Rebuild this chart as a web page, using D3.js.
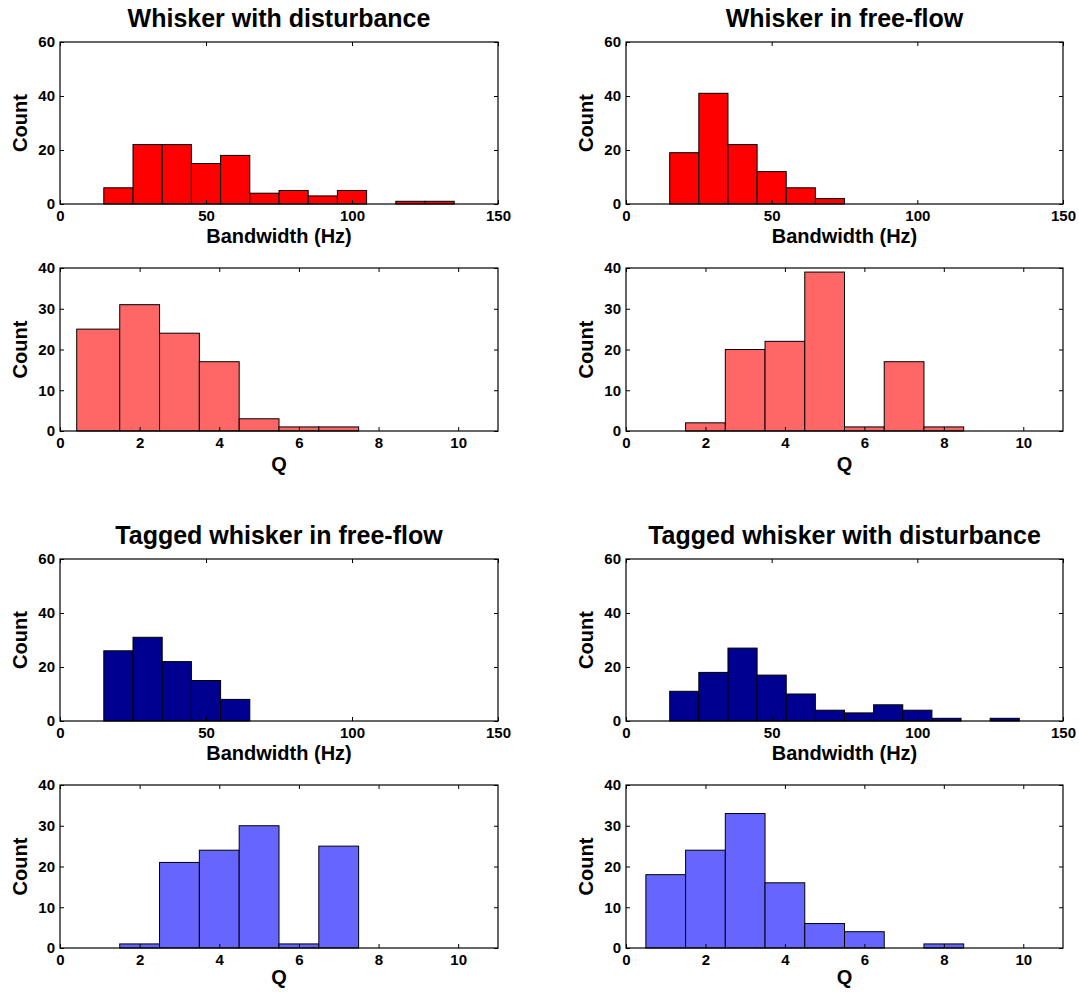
<!DOCTYPE html>
<html><head><meta charset="utf-8">
<script src="https://cdn.jsdelivr.net/npm/d3@7"></script>
<style>body{margin:0;background:#fff;}svg{display:block;}text{font-family:"Liberation Sans",Arial,sans-serif;font-weight:bold;}</style>
</head><body>
<svg id="c" width="1079" height="992"></svg>
<script>
// Bin edges (Bandwidth, width 10 Hz) and counts
const bwEdges = [15,25,35,45,55,65,75,85,95,105,115,125,135];
const bwWhiskerDisturb = [6,22,22,15,18,4,5,3,5,0,1,1];
const bwWhiskerFree    = [19,41,22,12,6,2,0,0,0,0,0,0];
const bwTaggedFree     = [26,31,22,15,8,0,0,0,0,0,0,0];
const bwTaggedDisturb  = [11,18,27,17,10,4,3,6,4,1,0,1];
// Q bins (width 1)
const qEdgesA = [0.42,1.5,2.5,3.5,4.5,5.5,6.5,7.5];
const qWhiskerDisturb = [25,31,24,17,3,1,1];
const qEdgesB = [1.5,2.5,3.5,4.5,5.5,6.5,7.5,8.5];
const qWhiskerFree = [2,20,22,39,1,17,1];
const qTaggedFree  = [1,21,24,30,1,25,0];
const qEdgesC = [0.5,1.5,2.5,3.5,4.5,5.5,6.5,7.5,8.5];
const qTaggedDisturb = [18,24,33,16,6,4,0,1];

const titles = ["Whisker with disturbance","Whisker in free-flow","Tagged whisker in free-flow","Tagged whisker with disturbance"];
const bwTicks = [0,50,100,150];
const qTicks = [0,2,4,6,8,10];
const bwYTicks = [0,20,40,60];
const qYTicks = [0,10,20,30,40];

const colRed="#ff0000", colLRed="#ff6666", colNavy="#000090", colLBlue="#6666ff";

const panels = [
  {x0:60,x1:498,y0:42,y1:204,edges:bwEdges,counts:bwWhiskerDisturb,xd:[0,150],yd:[0,60],xt:bwTicks,yt:bwYTicks,fill:colRed,xl:"Bandwidth (Hz)",lo:39,title:titles[0]},
  {x0:626,x1:1063,y0:42,y1:204,edges:bwEdges,counts:bwWhiskerFree,xd:[0,150],yd:[0,60],xt:bwTicks,yt:bwYTicks,fill:colRed,xl:"Bandwidth (Hz)",lo:39,title:titles[1]},
  {x0:60,x1:498,y0:268,y1:431,edges:qEdgesA,counts:qWhiskerDisturb,xd:[0,11],yd:[0,40],xt:qTicks,yt:qYTicks,fill:colLRed,xl:"Q",lo:40},
  {x0:626,x1:1063,y0:268,y1:431,edges:qEdgesB,counts:qWhiskerFree,xd:[0,11],yd:[0,40],xt:qTicks,yt:qYTicks,fill:colLRed,xl:"Q",lo:40},
  {x0:60,x1:498,y0:559,y1:721,edges:bwEdges,counts:bwTaggedFree,xd:[0,150],yd:[0,60],xt:bwTicks,yt:bwYTicks,fill:colNavy,xl:"Bandwidth (Hz)",lo:39,title:titles[2]},
  {x0:626,x1:1063,y0:559,y1:721,edges:bwEdges,counts:bwTaggedDisturb,xd:[0,150],yd:[0,60],xt:bwTicks,yt:bwYTicks,fill:colNavy,xl:"Bandwidth (Hz)",lo:39,title:titles[3]},
  {x0:60,x1:498,y0:785,y1:948,edges:qEdgesB,counts:qTaggedFree,xd:[0,11],yd:[0,40],xt:qTicks,yt:qYTicks,fill:colLBlue,xl:"Q",lo:36},
  {x0:626,x1:1063,y0:785,y1:948,edges:qEdgesC,counts:qTaggedDisturb,xd:[0,11],yd:[0,40],xt:qTicks,yt:qYTicks,fill:colLBlue,xl:"Q",lo:36}
];

const svg = d3.select("#c");

panels.forEach(p=>{
  const x = d3.scaleLinear().domain(p.xd).range([p.x0,p.x1]);
  const y = d3.scaleLinear().domain(p.yd).range([p.y1,p.y0]);
  const g = svg.append("g");
  const bins = p.counts.map((c,i)=>({a:p.edges[i],b:p.edges[i+1],c:c}));
  g.selectAll("rect.bar").data(bins).enter().append("rect")
    .attr("x",d=>x(d.a)).attr("width",d=>x(d.b)-x(d.a))
    .attr("y",d=>y(d.c)).attr("height",d=>y(0)-y(d.c))
    .attr("fill",p.fill).attr("stroke","#000").attr("stroke-width",1);
  // box
  g.append("rect").attr("x",p.x0).attr("y",p.y0).attr("width",p.x1-p.x0).attr("height",p.y1-p.y0)
    .attr("fill","none").attr("stroke","#000").attr("stroke-width",1.2);
  // axes with inward ticks
  const ax = g.append("g").attr("transform",`translate(0,${p.y1})`)
    .call(d3.axisBottom(x).tickValues(p.xt).tickSizeInner(-4).tickSizeOuter(0).tickPadding(6));
  const axT = g.append("g").attr("transform",`translate(0,${p.y0})`)
    .call(d3.axisTop(x).tickValues(p.xt).tickSizeInner(-4).tickSizeOuter(0).tickFormat(""));
  const ay = g.append("g").attr("transform",`translate(${p.x0},0)`)
    .call(d3.axisLeft(y).tickValues(p.yt).tickSizeInner(-4).tickSizeOuter(0).tickPadding(5));
  const ayR = g.append("g").attr("transform",`translate(${p.x1},0)`)
    .call(d3.axisRight(y).tickValues(p.yt).tickSizeInner(-4).tickSizeOuter(0).tickFormat(""));
  [ax,axT,ay,ayR].forEach(a=>{a.select(".domain").remove(); a.selectAll("line").attr("stroke","#000");
    a.selectAll("text").attr("font-size",15).attr("font-family","Liberation Sans, Arial, sans-serif").attr("font-weight","bold").attr("fill","#000");});
  // labels
  g.append("text").attr("x",(p.x0+p.x1)/2).attr("y",p.y1+p.lo).attr("text-anchor","middle")
    .attr("font-size",20).text(p.xl);
  g.append("text").attr("transform",`translate(${p.x0-33},${(p.y0+p.y1)/2}) rotate(-90)`)
    .attr("text-anchor","middle").attr("font-size",20).text("Count");
  if(p.title){
    g.append("text").attr("x",(p.x0+p.x1)/2).attr("y",p.y0-15).attr("text-anchor","middle")
      .attr("font-size",25).text(p.title);
  }
});
</script>
</body></html>
